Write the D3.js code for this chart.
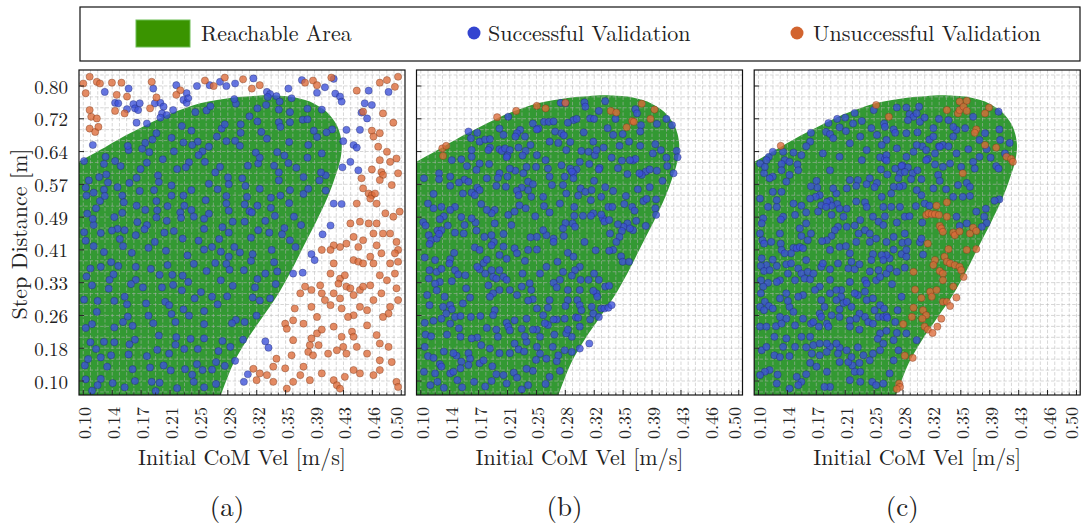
<!DOCTYPE html>
<html><head><meta charset="utf-8">
<script src="https://cdn.jsdelivr.net/npm/d3@7"></script>
<style>body{margin:0;background:#fff}svg{display:block}</style>
</head><body>
<svg id="chart" width="1084" height="531"></svg>
<script>
// ---------- data ----------
const xTicks = [0.1000,0.1364,0.1727,0.2091,0.2455,0.2818,0.3182,0.3545,0.3909,0.4273,0.4636,0.5000];
const xTickLabels = ["0.10","0.14","0.17","0.21","0.25","0.28","0.32","0.35","0.39","0.43","0.46","0.50"];
const yTicks = [0.1000,0.1778,0.2556,0.3333,0.4111,0.4889,0.5667,0.6444,0.7222,0.8000];
const yTickLabels = ["0.10","0.18","0.26","0.33","0.41","0.49","0.57","0.64","0.72","0.80"];
const panelLabels = ["(a)","(b)","(c)"];
const xTitle = "Initial CoM Vel [m/s]";
const yTitle = "Step Distance [m]";
const legendLabels = ["Reachable Area","Successful Validation","Unsuccessful Validation"];

// reachable area boundary (data units)
const reachX = [0.070,0.0946,0.121,0.142,0.163,0.184,0.205,0.226,0.247,0.268,0.289,0.310,0.331,0.345,0.360,0.373,0.385,0.396,0.406,0.413,0.419,0.423,0.425,0.425,0.424,0.421,0.417,0.412,0.406,0.394,0.377,0.360,0.343,0.326,0.306,0.289,0.273,0.265,0.070];
const reachY = [0.594,0.620,0.648,0.671,0.692,0.712,0.731,0.746,0.759,0.767,0.773,0.776,0.778,0.777,0.775,0.770,0.763,0.752,0.739,0.724,0.707,0.686,0.664,0.648,0.632,0.608,0.585,0.558,0.530,0.482,0.419,0.356,0.300,0.253,0.198,0.142,0.067,0.030,0.030];

const aSuccess = [
[.127,.786],[.157,.794],[.188,.794],[.217,.802],[.243,.800],[.259,.802],[.272,.810],[.280,.800],[.291,.806],[.314,.818],[.331,.786],[.335,.781],[.343,.776],[.358,.794],[.375,.814],[.394,.784],[.404,.797],[.415,.817],[.417,.782],[.459,.789],[.484,.786],
[.140,.760],[.144,.759],[.155,.745],[.163,.757],[.165,.747],[.171,.759],[.169,.743],[.190,.759],[.197,.760],[.201,.751],[.199,.735],[.226,.767],[.230,.760],[.213,.743],[.205,.731],[.167,.713],[.180,.711],[.197,.725],[.423,.775],[.425,.763],[.431,.696],[.448,.696],[.454,.759],[.450,.737],[.457,.723],[.463,.755],[.440,.660],[.444,.654],[.436,.620],[.426,.607],[.446,.600],[.112,.660],[.230,.783],
[.307,.116],[.302,.098],[.329,.194],[.333,.179],[.364,.355],[.376,.357],[.387,.401],[.391,.387],[.401,.448],[.411,.469],[.415,.521],[.425,.520],
[.232,.771],[.255,.742],[.260,.752],[.292,.758],[.290,.769],[.319,.747],[.332,.774],[.330,.755],[.347,.763],[.346,.744],[.362,.771],[.360,.714],[.382,.746],[.376,.720],[.400,.744],[.394,.679],[.390,.694],[.413,.697],[.406,.690],[.427,.669],[.383,.660],[.400,.640],[.359,.667],[.353,.635],[.344,.643],[.320,.616],[.317,.642],[.291,.670],[.297,.658],[.280,.669],[.268,.680],[.258,.656],[.250,.645],[.244,.668],[.236,.694],[.237,.660],[.224,.705],[.226,.666],[.211,.677],[.214,.645],[.192,.688],[.187,.673],[.178,.665],[.183,.643],[.174,.651],[.157,.648],[.156,.658],[.140,.622],[.147,.610],[.129,.590],[.128,.632],[.126,.615],[.101,.622],[.107,.576],[.241,.738],[.274,.699],[.278,.709],[.298,.689],[.298,.709],[.319,.716],[.309,.728],[.324,.691],[.346,.714],[.331,.675],[.360,.738],[.348,.703],[.382,.721],
[.103,.559],[.113,.547],[.126,.554],[.131,.571],[.149,.540],[.151,.524],[.167,.516],[.178,.506],[.193,.505],[.192,.527],[.206,.515],[.227,.516],[.236,.506],[.254,.529],[.258,.497],[.280,.521],[.283,.504],[.303,.519],[.309,.503],[.319,.516],[.336,.511],[.336,.535],[.359,.522],[.360,.553],[.377,.544],[.383,.556],[.405,.552],[.397,.576],[.405,.588],[.399,.595],[.377,.584],[.382,.630],[.358,.617],[.368,.606],[.346,.595],[.340,.611],[.322,.630],[.307,.611],[.300,.581],[.282,.583],[.283,.567],[.266,.595],[.272,.608],[.253,.620],[.245,.636],[.233,.619],[.229,.607],[.218,.603],[.194,.588],[.200,.626],[.180,.618],[.172,.603],[.167,.582],[.158,.570],[.143,.560],[.120,.584],[.104,.540],[.121,.527],[.127,.539],[.149,.499],[.116,.510],[.105,.497],[.139,.489],[.143,.461],[.168,.477],[.180,.470],[.192,.488],[.205,.480],[.222,.500],[.223,.487],[.239,.490],[.252,.461],[.252,.485],[.275,.465],[.288,.478],[.303,.478],[.312,.500],[.329,.480],[.341,.492],[.353,.463],[.365,.490],[.374,.470],[.346,.576],[.348,.540],[.322,.556],[.306,.537],[.304,.563],[.280,.539],[.269,.555],[.258,.568],[.236,.553],[.226,.540],[.211,.564],[.211,.540],[.195,.572],[.189,.553],[.171,.551],
[.122,.451],[.113,.470],[.101,.453],[.112,.485],[.245,.433],[.225,.438],[.214,.456],[.202,.452],[.177,.460],[.166,.446],[.152,.458],[.146,.437],[.136,.457],[.271,.437],[.283,.452],[.290,.418],[.311,.440],[.320,.458],[.334,.452],[.337,.411],[.360,.434],[.350,.448],[.367,.418],[.340,.382],[.329,.355],[.311,.385],[.313,.401],[.297,.405],[.283,.395],[.273,.407],[.262,.418],[.252,.412],[.239,.378],[.231,.398],[.206,.375],[.204,.409],[.182,.416],[.190,.430],[.161,.404],[.150,.420],[.135,.382],[.126,.406],[.113,.420],[.103,.433],[.109,.367],[.122,.371],[.138,.353],[.144,.373],[.166,.340],[.166,.371],[.185,.366],[.196,.352],[.212,.352],[.225,.350],[.232,.335],[.255,.361],[.266,.380],[.280,.378],[.284,.364],[.302,.363],[.319,.342],[.342,.330],[.344,.360],[.335,.296],[.316,.322],[.313,.298],[.288,.326],[.281,.301],[.273,.339],[.248,.311],[.240,.296],[.224,.315],[.213,.328],[.203,.288],[.199,.322],[.175,.322],[.160,.330],[.152,.300],[.133,.340],[.132,.319],[.111,.327],[.104,.348],[.101,.293],[.117,.264],[.118,.290],[.139,.290],[.155,.282],[.156,.253],[.179,.284],[.182,.255],[.208,.280],[.211,.259],[.233,.255],[.226,.270],[.252,.266],[.269,.282],[.262,.300],[.292,.245],[.303,.240],[.318,.255],[.322,.291],
[.111,.235],[.103,.226],[.126,.193],[.139,.227],[.150,.240],[.162,.231],[.165,.198],[.188,.237],[.195,.208],[.216,.240],[.217,.204],[.235,.200],[.252,.201],[.252,.235],[.275,.195],[.285,.181],[.301,.198],[.287,.237],[.109,.192],[.116,.176],[.122,.156],[.139,.192],[.135,.161],[.158,.187],[.157,.163],[.180,.159],[.193,.174],[.208,.165],[.216,.186],[.227,.176],[.243,.140],[.244,.176],[.267,.145],[.270,.171],[.291,.148],[.278,.136],[.262,.127],[.250,.126],[.237,.115],[.228,.128],[.210,.125],[.201,.137],[.186,.098],[.184,.132],[.165,.100],[.162,.128],[.137,.095],[.130,.134],[.122,.105],[.102,.137],[.111,.077],[.118,.090],[.152,.085],[.191,.076],[.196,.096],[.218,.083],[.239,.098],[.252,.085],[.267,.093],[.106,.152],[.103,.104]
];
const aFail = [
[.100,.806],[.103,.783],[.108,.822],[.117,.810],[.121,.806],[.136,.808],[.142,.779],[.148,.808],[.155,.775],[.186,.810],[.222,.790],[.253,.813],[.264,.800],[.278,.820],[.301,.816],[.312,.794],[.322,.802],[.379,.808],[.389,.813],[.394,.802],[.412,.820],[.444,.789],[.473,.808],[.482,.814],[.496,.822],[.492,.798],
[.108,.743],[.110,.727],[.117,.723],[.108,.699],[.115,.691],[.119,.703],[.140,.741],[.152,.735],[.184,.747],[.192,.773],[.217,.779],[.477,.735],[.490,.713],[.463,.694],[.473,.688],[.452,.739],
[.465,.680],[.471,.656],[.482,.644],[.494,.628],[.486,.620],[.473,.624],[.475,.596],[.477,.589],[.496,.593],[.463,.602],[.450,.581],[.452,.557],[.459,.545],[.463,.541],[.467,.545],[.461,.533],[.469,.521],[.436,.474],[.444,.521],[.490,.490],[.498,.502],[.486,.450],[.494,.430],[.496,.411],[.492,.403],[.496,.383],[.477,.450],[.469,.474],[.459,.474],[.448,.478],[.431,.426],[.423,.418],[.415,.422],[.411,.411],[.400,.411],[.440,.387],[.446,.383],[.452,.379],[.461,.395],[.475,.403],[.465,.379],[.415,.379],[.411,.355],[.423,.343],[.429,.351],[.421,.331],[.431,.324],[.436,.320],[.448,.316],[.452,.324],[.461,.327],[.440,.304],[.465,.292],[.482,.339],[.473,.351],[.492,.355],[.494,.320],[.496,.292],[.486,.276],[.484,.260],[.477,.252],[.457,.268],[.448,.276],[.440,.256],[.433,.252],[.425,.272],[.411,.280],[.404,.292],[.400,.308],[.398,.327],[.387,.316],[.379,.324],[.373,.308],[.387,.276],[.377,.236],[.366,.272],[.364,.244],[.387,.201],[.394,.213],[.400,.222],[.415,.229],[.425,.205],[.438,.217],[.440,.205],[.457,.232],[.469,.209],[.473,.189],[.484,.181],[.488,.145],[.473,.149],[.457,.165],[.444,.181],[.427,.181],[.419,.173],[.431,.165],[.408,.165],[.396,.185],[.385,.185],[.383,.169],[.389,.161],[.377,.134],[.362,.161],[.364,.197],[.354,.236],[.356,.224],[.343,.153],[.354,.130],[.339,.134],[.331,.114],[.339,.098],[.356,.082],[.373,.114],[.385,.102],[.400,.118],[.415,.102],[.419,.090],[.423,.082],[.429,.110],[.440,.126],[.448,.118],[.465,.114],[.473,.126],[.494,.098],[.496,.086],[.322,.118],[.314,.129],[.318,.102],[.364,.098],
[.473,.577],[.488,.565],[.480,.498],[.465,.450],[.452,.434],[.440,.442],[.446,.418],[.469,.422],[.486,.379],[.475,.308],[.415,.308],[.423,.296],[.394,.252]
];

const bSuccess = [
[.276,.760],[.282,.759],[.306,.761],[.332,.764],[.307,.751],[.324,.741],[.370,.745],[.372,.735],[.313,.723],[.318,.722],[.345,.722],[.292,.719],[.296,.722],[.255,.715],[.261,.715],[.267,.716],[.241,.711],[.248,.699],[.246,.697],[.285,.713],[.210,.727],[.199,.699],[.409,.722],[.397,.710],[.416,.707],[.377,.707],[.376,.692],[.342,.684],[.354,.686],[.317,.668],[.225,.696],[.221,.688],[.231,.680],[.219,.680],[.204,.684],[.160,.692],[.171,.689],[.163,.676],[.174,.668],[.181,.673],[.187,.674],[.187,.654],[.185,.648],[.199,.650],[.202,.646],[.206,.652],[.212,.648],[.223,.654],[.232,.646],[.228,.635],[.209,.635],[.208,.631],[.246,.636],[.257,.624],[.269,.692],[.277,.688],[.280,.683],[.273,.665],[.288,.667],[.283,.648],[.302,.646],[.311,.644],[.319,.636],[.321,.648],[.330,.654],[.350,.658],[.376,.658],[.395,.662],[.402,.648],[.422,.646],[.409,.630],[.423,.631],[.418,.593],[.383,.597],[.388,.602],[.397,.599],[.378,.589],[.375,.593],[.360,.591],[.367,.623],[.370,.627],[.363,.624],[.353,.623],[.348,.605],[.340,.630],[.325,.606],[.324,.602],[.312,.615],[.300,.620],[.296,.602],[.292,.593],[.288,.604],[.277,.612],[.260,.604],[.245,.608],[.233,.608],[.229,.593],[.219,.599],[.212,.604],[.199,.593],[.183,.581],[.170,.601],
[.164,.632],[.164,.648],[.174,.616],[.151,.626],[.139,.624],[.123,.593],[.123,.579],[.104,.581],[.137,.585],[.155,.578],[.160,.573],[.137,.563],[.148,.571],[.171,.559],[.174,.553],[.116,.544],[.153,.545],[.164,.547],[.168,.541],[.195,.563],[.207,.561],[.197,.582],[.209,.585],[.235,.573],[.241,.567],[.235,.553],[.227,.559],[.221,.552],[.223,.541],[.239,.537],[.254,.537],[.255,.515],[.265,.565],[.279,.565],[.283,.545],[.281,.585],[.290,.597],[.292,.581],[.301,.557],[.307,.549],[.315,.553],[.314,.529],[.327,.537],[.336,.513],[.341,.513],[.342,.551],[.358,.539],[.373,.555],[.366,.513],[.369,.504],[.380,.527],[.384,.532],[.396,.531],[.395,.510],[.396,.494],[.383,.468],[.371,.480],[.367,.458],[.360,.474],[.355,.466],[.363,.462],[.353,.456],[.348,.472],[.350,.442],[.346,.430],[.342,.411],[.352,.396],[.354,.383],[.362,.383],
[.337,.409],[.338,.450],[.329,.486],[.331,.478],[.337,.482],[.327,.495],[.317,.498],[.314,.492],[.304,.492],[.293,.492],[.291,.474],[.294,.466],[.282,.475],[.279,.462],[.293,.513],[.275,.521],[.280,.444],[.267,.438],[.267,.430],[.258,.446],[.254,.458],[.246,.442],[.238,.441],[.244,.491],[.232,.510],[.224,.517],[.210,.494],[.218,.502],[.193,.506],[.189,.498],[.183,.506],[.193,.474],[.204,.449],[.189,.446],[.192,.430],[.180,.442],[.170,.457],[.169,.476],[.164,.486],[.151,.489],[.143,.513],[.137,.506],[.126,.513],[.129,.491],[.124,.484],[.116,.510],[.109,.521],[.103,.477],[.106,.469],[.110,.446],[.113,.434],[.111,.425],[.120,.438],[.121,.457],[.126,.458],[.134,.469],[.123,.449],[.143,.452],[.154,.450],[.142,.404],[.118,.387],[.105,.393],[.111,.363],[.120,.359],[.126,.366],[.137,.389],[.136,.379],[.143,.363],[.147,.353],[.156,.351],[.139,.337],[.124,.335],[.118,.331],[.110,.343],[.120,.315],[.108,.304],[.111,.280],[.128,.276],[.137,.280],[.139,.270],[.143,.252],[.132,.260],[.126,.248],[.137,.236],[.116,.243],[.106,.210],[.113,.206],[.105,.181],[.109,.159],[.116,.155],[.124,.140],[.126,.134],[.137,.118],[.141,.122],[.145,.160],[.151,.146],[.141,.166],[.129,.170],[.121,.098],[.129,.084],[.167,.098],[.189,.100],[.195,.116],[.204,.114],[.217,.120],[.221,.108],[.235,.090],[.257,.093],[.241,.124],[.233,.129],[.250,.165],[.258,.153],[.271,.147],[.275,.124],[.273,.161],[.266,.181],[.281,.173],[.290,.169],[.300,.177],[.312,.189],[.290,.205],[.283,.213],[.285,.222],[.300,.229],[.313,.246],[.317,.260],[.315,.276],[.327,.272],[.331,.272],[.336,.274],[.340,.280],[.324,.252],[.321,.308],[.317,.314],[.332,.324],[.337,.326],[.324,.340],[.311,.340],[.300,.316],[.285,.316],[.297,.292],[.285,.292],[.282,.278],[.300,.280],[.302,.268],[.295,.251],[.281,.248],[.271,.246],[.260,.233],[.256,.237],[.246,.222],[.241,.222],[.233,.248],[.246,.272],[.241,.294],[.235,.291],[.239,.316],[.237,.332],[.227,.324],[.221,.304],[.212,.316],[.199,.316],[.191,.308],[.187,.300],[.185,.327],[.191,.347],[.195,.343],[.204,.347],[.208,.340],[.199,.363],[.189,.363],[.181,.355],[.179,.380],[.174,.365],[.171,.371],[.168,.417],[.174,.411],[.183,.388],[.189,.422],[.199,.399],[.204,.419],[.218,.415],[.221,.403],[.231,.385],[.235,.411],[.246,.412],[.250,.355],[.258,.371],[.272,.383],[.279,.359],[.285,.404],[.292,.395],[.300,.371],[.294,.363],[.301,.340],[.275,.340],[.267,.333],[.271,.322],[.260,.274],[.254,.256],[.262,.292],[.267,.246],[.218,.244],[.208,.238],[.210,.229],[.193,.268],[.191,.256],[.175,.254],[.163,.252],[.162,.298],[.153,.284],[.150,.254],[.171,.203],[.164,.201],[.160,.166],[.162,.153],[.160,.138],[.174,.142],[.179,.149],[.187,.177],[.197,.205],[.199,.166],[.212,.166],[.218,.189],[.223,.175],[.233,.193],[.246,.181],[.250,.205],[.231,.206],[.227,.224],[.212,.220],[.195,.222],
[.104,.122],[.112,.090],[.146,.102],[.152,.085],[.181,.087],[.208,.094],[.227,.080],[.262,.110],[.105,.238],[.183,.226],[.176,.185],[.150,.205],[.133,.210],
[.158,.610],[.186,.615],[.262,.585],[.298,.540],[.318,.575],[.332,.560],[.356,.520],[.388,.560],[.404,.575],[.410,.610],[.392,.640],[.362,.668],[.335,.700],[.305,.690],[.262,.668],[.238,.660],[.155,.470],[.176,.520],[.214,.470],[.262,.500],[.306,.430],[.320,.410],[.318,.355],[.290,.350],[.228,.355],[.208,.390],[.157,.320],[.130,.300],[.148,.225],[.245,.150],[.298,.250],[.322,.300],[.268,.210],[.230,.170],[.190,.135],[.150,.130],[.118,.118]
];
const bFail = [
[.127,.652],[.128,.634],[.132,.658],[.196,.726],[.220,.741],[.246,.753],[.257,.747],[.282,.760],[.339,.741],[.346,.737],[.359,.702],[.366,.717],[.368,.715],[.378,.758],[.389,.722],[.394,.744]
];

const cSuccess = [
[.286,.749],[.290,.733],[.295,.727],[.288,.719],[.299,.735],[.303,.715],[.309,.725],[.274,.749],[.302,.751],[.327,.722],[.315,.673],[.320,.680],[.327,.657],[.332,.660],[.339,.657],[.306,.657],[.311,.648],[.313,.627],[.299,.660],[.295,.644],[.286,.632],[.281,.612],[.288,.607],[.282,.563],[.278,.593],[.294,.593],[.305,.579],[.320,.557],[.305,.541],[.298,.515],[.309,.521],[.315,.516],[.306,.476],
[.102,.616],[.113,.632],[.110,.624],[.118,.644],[.131,.644],[.144,.642],[.133,.624],[.129,.615],[.139,.620],[.149,.614],[.129,.600],[.118,.585],[.114,.581],[.107,.593],[.108,.608],[.139,.589],[.135,.573],[.154,.636],[.165,.668],[.160,.657],[.166,.689],[.185,.691],[.190,.686],[.194,.676],[.188,.712],[.202,.702],[.210,.693],[.199,.722],[.209,.725],[.221,.736],[.219,.711],[.230,.717],[.245,.743],[.258,.711],[.259,.703],[.249,.684],[.261,.672],[.255,.660],[.270,.697],[.272,.689],[.253,.631],[.259,.627],[.261,.636],[.261,.623],[.272,.604],[.280,.610],[.284,.596],[.276,.581],[.277,.561],[.270,.561],[.292,.579],[.254,.602],[.249,.570],[.240,.581],[.236,.567],[.225,.577],[.215,.577],[.223,.563],[.211,.557],[.198,.545],[.194,.557],[.190,.528],[.199,.520],[.192,.516],[.173,.575],[.174,.559],[.177,.541],[.166,.562],[.172,.537],[.165,.533],[.179,.517],[.186,.525],[.185,.513],[.175,.502],[.192,.494],[.202,.509],[.207,.490],[.211,.509],[.223,.526],[.234,.524],[.236,.513],[.228,.482],[.221,.469],[.226,.450],[.234,.458],[.211,.466],[.200,.466],[.196,.458],[.192,.444],[.186,.434],[.180,.432],[.166,.450],[.162,.434],[.160,.474],[.152,.462],[.154,.444],[.144,.521],[.154,.516],[.146,.494],[.131,.490],[.128,.483],[.123,.513],[.118,.549],[.129,.549],[.123,.529],[.112,.513],[.106,.486],[.104,.474],[.105,.434],[.107,.426],[.116,.430],[.127,.450],[.128,.426],[.129,.411],[.144,.416],[.148,.415],[.152,.418],[.156,.415],[.141,.403],[.133,.403],[.118,.388],[.110,.375],[.103,.373],[.107,.361],[.114,.363],[.123,.373],[.135,.377],[.141,.379],[.150,.367],[.154,.355],[.162,.359],[.158,.343],[.165,.341],[.146,.339],[.137,.355],[.127,.339],[.123,.335],[.112,.333],[.106,.324],[.108,.288],[.113,.278],[.102,.276],[.107,.268],[.118,.272],[.139,.276],[.137,.290],[.144,.264],[.135,.248],[.127,.252],[.146,.232],[.156,.248],[.166,.236],[.169,.240],[.177,.260],[.179,.252],[.176,.229],[.186,.236],[.188,.229],[.192,.256],[.179,.292],[.183,.276],[.202,.270],[.207,.285],[.211,.288],[.217,.276],[.227,.260],[.223,.248],[.234,.252],[.238,.240],[.251,.252],[.257,.252],[.261,.254],[.246,.268],[.236,.292],[.244,.296],[.253,.280],[.258,.272],[.234,.312],[.225,.304],[.221,.308],[.204,.316],[.198,.316],[.204,.300],[.177,.324],[.171,.316],[.169,.355],[.179,.371],[.181,.379],[.190,.365],[.200,.379],[.213,.367],[.221,.365],[.227,.377],[.217,.383],[.234,.339],[.236,.331],[.248,.339],[.253,.347],[.261,.355],[.265,.367],[.274,.359],[.284,.369],[.265,.391],[.261,.399],[.270,.412],[.280,.401],[.286,.395],[.286,.411],[.255,.399],[.244,.401],[.242,.387],[.248,.438],[.261,.430],[.270,.442],[.281,.428],[.288,.430],[.303,.429],[.305,.438],[.307,.400],[.274,.476],[.259,.491],[.257,.513],[.267,.513],[.251,.478],[.257,.470],[.278,.513],[.284,.490],[.290,.491],
[.345,.680],[.349,.696],[.328,.656],[.370,.620],[.372,.604],[.362,.570],[.366,.561],[.366,.539],[.357,.537],[.378,.632],[.385,.688],[.387,.650],[.399,.610],[.402,.604],[.404,.672],[.403,.697],[.416,.665],[.402,.739],[.351,.565],[.345,.537],[.336,.555],[.332,.608],[.326,.589],[.311,.624],[.322,.614],[.341,.616],[.355,.608],[.328,.575],[.349,.490],[.374,.502],[.386,.509],[.384,.490],[.387,.475],[.362,.474],[.353,.468],[.381,.466],[.403,.531],[.397,.528],
[.257,.387],[.251,.363],[.215,.335],[.198,.292],[.190,.308],[.202,.252],[.215,.244],[.215,.229],[.227,.222],[.244,.236],[.253,.213],[.261,.219],[.274,.214],[.270,.197],[.257,.189],[.253,.173],[.244,.165],[.240,.149],[.232,.161],[.227,.143],[.218,.137],[.221,.122],[.228,.122],[.211,.173],[.202,.179],[.200,.165],[.190,.181],[.186,.169],[.177,.161],[.167,.165],[.165,.143],[.173,.134],[.160,.116],[.154,.098],[.150,.090],[.148,.110],[.139,.082],[.123,.094],[.114,.126],[.108,.122],[.102,.114],[.104,.173],[.110,.181],[.120,.161],[.127,.157],[.139,.159],[.146,.181],[.131,.181],[.135,.201],[.120,.205],[.102,.229],[.110,.229],[.122,.230],[.129,.236],[.154,.205],[.165,.205],[.169,.185],[.177,.189],[.186,.189],[.198,.189],[.202,.145],[.213,.145],[.217,.157],[.186,.122],[.190,.086],[.183,.086],[.215,.102],[.228,.098],[.243,.098],[.248,.090],[.257,.094],[.265,.118],[.270,.149],[.276,.173],[.286,.213],[.299,.197],
[.102,.533],[.102,.450],[.104,.391],[.103,.339],[.103,.308],[.135,.308],[.156,.304],[.127,.296],[.215,.403],[.202,.418],[.190,.411],[.160,.387],[.223,.430],[.244,.490],[.240,.450],[.255,.537],[.267,.545],[.299,.553],[.230,.624],[.236,.648],[.215,.664],[.202,.632],[.181,.640],[.228,.680],[.242,.700],[.274,.652],[.286,.688],[.339,.719],[.345,.703],[.370,.727],[.378,.672],[.349,.640],
[.150,.600],[.190,.600],[.246,.560],[.262,.590],[.300,.600],[.322,.640],[.364,.650],[.392,.630],[.410,.640],[.360,.700],[.320,.700],[.300,.690],[.160,.500],[.210,.420],[.240,.430],[.284,.450],[.150,.300],[.190,.340],[.240,.360],[.268,.330],[.280,.300],[.275,.268],[.250,.200],[.225,.180],[.160,.180],[.124,.115],[.262,.250],[.272,.240]
];
const cFail = [
[.128,.658],[.248,.755],[.264,.727],[.337,.743],[.351,.735],[.353,.743],[.353,.763],[.358,.751],[.362,.765],[.362,.741],[.390,.749],[.385,.735],[.374,.697],[.372,.689],[.385,.660],[.399,.654],[.412,.632],[.418,.627],[.420,.620],[.357,.593],[.324,.516],[.337,.524],[.311,.494],[.314,.498],[.318,.496],[.322,.496],[.327,.494],[.337,.490],[.328,.468],[.330,.462],[.332,.454],[.345,.452],[.347,.446],[.353,.455],[.366,.450],[.370,.464],[.374,.456],[.313,.426],[.322,.387],[.339,.413],[.362,.411],[.374,.413],[.334,.395],[.337,.383],[.341,.379],[.347,.375],[.353,.371],[.355,.363],[.358,.347],[.295,.359],[.320,.375],[.328,.361],[.332,.355],[.332,.339],[.345,.324],[.297,.317],[.349,.298],[.316,.312],[.318,.300],[.324,.316],[.332,.288],[.337,.288],[.341,.278],[.305,.297],[.295,.274],[.307,.268],[.311,.256],[.306,.248],[.293,.252],[.282,.235],[.309,.229],[.313,.222],[.319,.214],[.325,.229],[.330,.248],[.284,.160],[.294,.155],[.277,.094],[.278,.086],[.274,.081]
];

// ---------- layout ----------
const svg = d3.select("#chart");
const FONT = "'CMU Serif','Latin Modern Roman','Liberation Serif','Times New Roman',serif";
const W = 326, H = 325, TOP = 70;
const panelLefts = [79, 416.5, 754.2];
const xDom = [0.0946, 0.5047], yDom = [0.0668, 0.838];
const GREEN = "#339933";
const BLUE = "#3b4fd8", BLUE_EDGE = "#1c2566";
const ORANGE = "#dc6a38", ORANGE_EDGE = "#6b2f14";
const datasets = [[aSuccess, aFail],[bSuccess, bFail],[cSuccess, cFail]];

// grid positions from ticks
const xGrid = [];
for (let k = 0; k < xTicks.length - 1; k++)
  for (let m = 0; m < 4; m++) xGrid.push(xTicks[k] + (xTicks[k+1]-xTicks[k]) * m / 4);
xGrid.push(xTicks[xTicks.length-1]);
const yStep = (yTicks[1] - yTicks[0]) / 3;
const yGrid = [];
for (let k = -3; k <= (yTicks.length - 1) * 3 + 3; k++) {
  const v = yTicks[0] + k * yStep;
  if (v > yDom[0] && v < yDom[1]) yGrid.push(v);
}

panelLefts.forEach((left, i) => {
  const x = d3.scaleLinear().domain(xDom).range([0, W]);
  const y = d3.scaleLinear().domain(yDom).range([H, 0]);
  const g = svg.append("g").attr("transform", `translate(${left},${TOP})`);
  g.append("clipPath").attr("id", "clip" + i).append("rect").attr("width", W).attr("height", H);
  const body = g.append("g").attr("clip-path", `url(#clip${i})`);
  body.append("rect").attr("width", W).attr("height", H).attr("fill", "#fff");
  body.append("path")
    .datum(d3.zip(reachX, reachY))
    .attr("d", d3.line().x(d => x(d[0])).y(d => y(d[1])).curve(d3.curveCatmullRomClosed.alpha(0.5)))
    .attr("fill", GREEN);
  body.append("g").selectAll("line").data(xGrid).join("line")
    .attr("x1", d => x(d)).attr("x2", d => x(d)).attr("y1", 0).attr("y2", H)
    .attr("stroke", "#b4b4b4").attr("stroke-opacity", 0.6).attr("stroke-width", 0.9)
    .attr("stroke-dasharray", "3.5,1.8");
  body.append("g").selectAll("line").data(yGrid).join("line")
    .attr("y1", d => y(d)).attr("y2", d => y(d)).attr("x1", 0).attr("x2", W)
    .attr("stroke", "#b4b4b4").attr("stroke-opacity", 0.6).attr("stroke-width", 0.9)
    .attr("stroke-dasharray", "3.5,1.8");
  const [ok, fail] = datasets[i];
  body.append("g").selectAll("circle").data(ok).join("circle")
    .attr("cx", d => x(d[0])).attr("cy", d => y(d[1])).attr("r", 3.6)
    .attr("fill", BLUE).attr("fill-opacity", 0.78)
    .attr("stroke", BLUE_EDGE).attr("stroke-opacity", 0.6).attr("stroke-width", 0.6);
  body.append("g").selectAll("circle").data(fail).join("circle")
    .attr("cx", d => x(d[0])).attr("cy", d => y(d[1])).attr("r", 3.6)
    .attr("fill", ORANGE).attr("fill-opacity", 0.78)
    .attr("stroke", ORANGE_EDGE).attr("stroke-opacity", 0.6).attr("stroke-width", 0.6);

  // ticks (inward)
  g.append("g").selectAll("line").data(xTicks).join("line")
    .attr("x1", d => x(d)).attr("x2", d => x(d)).attr("y1", H).attr("y2", H - 5)
    .attr("stroke", "#222").attr("stroke-width", 1);
  g.append("g").selectAll("line").data(xGrid.filter((d, k) => k % 4 !== 0)).join("line")
    .attr("x1", d => x(d)).attr("x2", d => x(d)).attr("y1", H).attr("y2", H - 2.5)
    .attr("stroke", "#222").attr("stroke-width", 0.8);
  g.append("g").selectAll("line").data(yTicks).join("line")
    .attr("y1", d => y(d)).attr("y2", d => y(d)).attr("x1", 0).attr("x2", 5)
    .attr("stroke", "#222").attr("stroke-width", 1);
  g.append("rect").attr("width", W).attr("height", H)
    .attr("fill", "none").attr("stroke", "#111").attr("stroke-width", 1.2);

  // x tick labels (rotated); keep the rightmost label inside the canvas
  g.append("g").selectAll("text").data(xTicks).join("text")
    .attr("transform", d => `translate(${Math.min(x(d) + 0.5, W - 9.5)},${H + 12}) rotate(-90)`)
    .attr("text-anchor", "end").attr("dominant-baseline", "central")
    .attr("font-family", FONT).attr("font-size", 18).attr("fill", "#222")
    .text((d, k) => xTickLabels[k]);
  if (i === 0) {
    g.append("g").selectAll("text").data(yTicks).join("text")
      .attr("x", -11).attr("y", d => y(d))
      .attr("text-anchor", "end").attr("dominant-baseline", "central")
      .attr("font-family", FONT).attr("font-size", 19).attr("fill", "#222")
      .text((d, k) => yTickLabels[k]);
  }
  g.append("text").attr("x", W / 2).attr("y", 395)
    .attr("text-anchor", "middle").attr("font-family", FONT).attr("font-size", 22).attr("fill", "#222")
    .text(xTitle);
  g.append("text").attr("x", W / 2 - 15).attr("y", 446)
    .attr("text-anchor", "middle").attr("font-family", FONT).attr("font-size", 27).attr("fill", "#222")
    .text(panelLabels[i]);
});

svg.append("text").attr("transform", "translate(17,234) rotate(-90)")
  .attr("text-anchor", "middle").attr("dominant-baseline", "central")
  .attr("font-family", FONT).attr("font-size", 22).attr("fill", "#222").text(yTitle);

// legend
const lg = svg.append("g");
lg.append("rect").attr("x", 80).attr("y", 7).attr("width", 1000).attr("height", 54)
  .attr("fill", "#fff").attr("stroke", "#111").attr("stroke-width", 1.2);
lg.append("rect").attr("x", 136).attr("y", 20).attr("width", 54).attr("height", 27)
  .attr("fill", "#3a9400").attr("stroke", "#6cbd55").attr("stroke-width", 1);
lg.append("text").attr("x", 201).attr("y", 41).attr("font-family", FONT).attr("font-size", 22).attr("fill", "#222").text(legendLabels[0]);
lg.append("circle").attr("cx", 474).attr("cy", 33).attr("r", 6.5).attr("fill", "#3344d0");
lg.append("text").attr("x", 488).attr("y", 41).attr("font-family", FONT).attr("font-size", 22).attr("fill", "#222").text(legendLabels[1]);
lg.append("circle").attr("cx", 797).attr("cy", 33).attr("r", 6.5).attr("fill", "#d2642f");
lg.append("text").attr("x", 813).attr("y", 41).attr("font-family", FONT).attr("font-size", 22).attr("fill", "#222").text(legendLabels[2]);
</script>
</body></html>
